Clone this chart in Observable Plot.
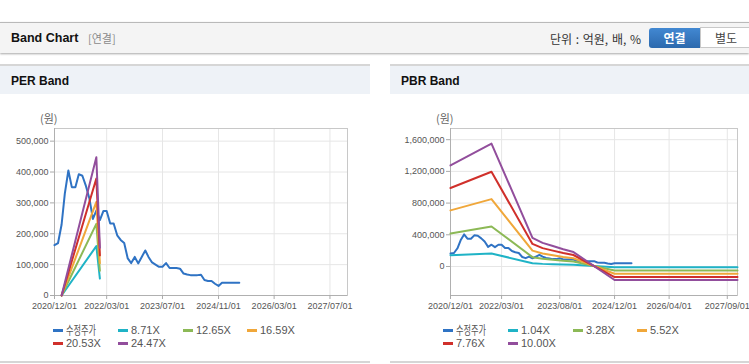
<!DOCTYPE html>
<html><head><meta charset="utf-8">
<script src="https://cdn.jsdelivr.net/npm/d3@7"></script>
<script src="https://cdn.jsdelivr.net/npm/@observablehq/plot@0.6"></script>
<style>
body{margin:0;width:749px;height:364px;overflow:hidden;background:#fff;position:relative;font-family:"Liberation Sans",Arial,sans-serif;}
.abs{position:absolute;}
.kr{font-family:"Noto Sans CJK KR","Liberation Sans",sans-serif;}
#topbar{left:0;top:22px;width:749px;height:30px;background:#f4f4f4;border-top:1px solid #b9b9b9;box-shadow:0 1px 2px rgba(0,0,0,0.35);}
.title{font-weight:bold;color:#111;white-space:nowrap;}
.btn{top:28px;height:20px;line-height:20px;text-align:center;font-size:12px;}
.phead{top:64px;height:28px;background:#eef2f7;border-top:2px solid #d6d6d6;}
.pbottom{top:361px;height:0;border-top:2px solid #d6d6d6;}
.leg{font-size:11px;color:#555;white-space:nowrap;line-height:12px;height:12px;}
.sw{position:absolute;width:10px;height:3px;}
</style></head><body>
<div id="topbar" class="abs"></div>
<div class="abs title" style="left:11px;top:31px;font-size:12.5px;">Band Chart</div>
<div class="abs kr" style="left:88px;top:30px;font-size:11px;color:#8a8a8a;">[연결]</div>
<div class="abs kr" style="left:550px;top:30px;font-size:12px;color:#333;white-space:nowrap;word-spacing:1px;">단위 : 억원, 배, %</div>
<div class="abs btn kr" style="left:649px;width:51px;background:linear-gradient(#4288d2,#2c69ad);color:#fff;font-weight:bold;border-radius:3px 0 0 3px;">연결</div>
<div class="abs btn kr" style="left:700px;width:52px;background:#fff;color:#444;border:1px solid #c8c8c8;top:27px;box-sizing:border-box;height:21px;">별도</div>

<div class="abs phead" style="left:0;width:370px;"></div>
<div class="abs phead" style="left:390px;width:359px;"></div>
<div class="abs title" style="left:11px;top:74px;font-size:12px;">PER Band</div>
<div class="abs title" style="left:401px;top:74px;font-size:12px;">PBR Band</div>
<div class="abs pbottom" style="left:0;width:370px;"></div>
<div class="abs pbottom" style="left:390px;width:359px;"></div>

<div class="abs kr" style="left:40px;top:110px;font-size:11px;color:#666;">(원)</div>
<div class="abs kr" style="left:436px;top:110px;font-size:11px;color:#666;">(원)</div>

<div id="left" class="abs" style="left:0;top:100px;"></div>
<div id="right" class="abs" style="left:390px;top:100px;"></div>
<div id="legends"></div>

<script>
// ---- data ----
const priceDates = [
 "2020-12-01",
 "2021-01-01","2021-02-01","2021-03-01","2021-04-01","2021-05-01","2021-06-01","2021-07-01","2021-08-01","2021-09-01","2021-10-01","2021-11-01","2021-12-01",
 "2022-01-01","2022-02-01","2022-03-01","2022-04-01","2022-05-01","2022-06-01","2022-07-01","2022-08-01","2022-09-01","2022-10-01","2022-11-01","2022-12-01",
 "2023-01-01","2023-02-01","2023-03-01","2023-04-01","2023-05-01","2023-06-01","2023-07-01","2023-08-01","2023-09-01","2023-10-01","2023-11-01","2023-12-01",
 "2024-01-01","2024-02-01","2024-03-01","2024-04-01","2024-05-01","2024-06-01","2024-07-01","2024-08-01","2024-09-01","2024-10-01","2024-11-01","2024-12-01",
 "2025-01-01","2025-02-01","2025-03-01","2025-04-01","2025-05-01"];
const priceValues = [
 163000,170000,230000,330000,405000,351000,351000,393000,388000,355000,315000,248000,
 275000,244000,274000,274000,233000,233000,195000,180000,170000,120000,105000,125000,
 104000,125000,146000,125000,107000,100000,93000,93000,105000,89000,89000,89000,
 87000,71000,68000,66000,66000,66000,67000,50000,47000,47000,38000,31000,
 41000,41000,41000,41000,41000,41000];

const perDates = ["2021-02-01","2021-12-01","2022-01-01"];
const per871 = [0,160000,55000];
const per1265 = [0,232000,80000];
const per1659 = [0,303000,105000];
const per2053 = [0,379000,130000];
const per2447 = [0,448000,155000];
const perLabels = ["수정주가","8.71X","12.65X","16.59X","20.53X","24.47X"];

const pbrDates = ["2020-12-01","2021-12-01","2022-12-01","2023-03-01","2023-06-01","2023-09-01","2023-12-01","2024-12-01","2027-12-01"];
const pbr104 = [143000,165000,40000,33000,29000,25000,22000,-10000,-10000];
const pbr328 = [416000,505000,118000,98000,85000,72000,62000,-50000,-50000];
const pbr552 = [708000,850000,200000,165000,142000,120000,104000,-92000,-92000];
const pbr776 = [990000,1195000,285000,232000,200000,170000,145000,-133000,-133000];
const pbr1000 = [1275000,1550000,362000,298000,258000,218000,182000,-170000,-170000];
const pbrLabels = ["수정주가","1.04X","3.28X","5.52X","7.76X","10.00X"];

const colors = ["#2f73c4","#1fb3c6","#8cb956","#f0a73a","#d0302b","#924e9c"];

const xDomain = ["2020-12-01","2027-12-01"];
const perXTicks = ["2020-12-01","2022-03-01","2023-07-01","2024-11-01","2026-03-01","2027-07-01"];
const pbrXTicks = ["2020-12-01","2022-03-01","2023-08-01","2024-12-01","2026-04-01","2027-09-01"];
const perYTicks = [0,100000,200000,300000,400000,500000];
const pbrYTicks = [0,400000,800000,1200000,1600000];
const perYDomain = [0,541000];
const pbrYDomain = [-366000,1741000];

// ---- build ----
const parse = d3.utcParse("%Y-%m-%d");
function rows(dates, vals){ return dates.map((d,i)=>({date:parse(d), value:vals[i]})); }

function chart(opts){
  const xt = opts.xticks.map(parse);
  const xd = xDomain.map(parse);
  const marks = [
    Plot.gridY({ticks: opts.yticks, stroke:"#e6e6e6", strokeOpacity:1}),
    Plot.gridX({ticks: xt, stroke:"#e6e6e6", strokeOpacity:1}),
    Plot.frame({stroke:"#c8c8c8"}),
    Plot.ruleY([opts.ydomain[0]], {stroke:"#b0b0b0"}),
    Plot.ruleX([xd[0]], {stroke:"#b0b0b0"}),
    Plot.axisY({ticks: opts.yticks, tickSize:4, tickPadding:2, tickFormat:d3.format(","), stroke:"#aaa", fill:"#555", label:null}),
    Plot.axisX({ticks: xt, tickSize:4, tickPadding:3, tickFormat:d3.utcFormat("%Y/%m/%d"), stroke:"#aaa", fill:"#555", label:null})
  ];
  opts.series.forEach((s,i)=>{
    marks.push(Plot.lineY(s, {x:"date", y:"value", stroke:colors[i], strokeWidth:2}));
  });
  return Plot.plot({
    width: opts.width, height: 220,
    marginLeft: opts.ml, marginRight: opts.mr, marginTop: 28, marginBottom: 25,
    style:{fontSize:"9px", fontFamily:"'Liberation Sans', Arial, sans-serif", color:"#555", background:"none", overflow:"visible"},
    x:{type:"utc", domain: xd},
    y:{domain: opts.ydomain},
    marks
  });
}

document.getElementById("left").appendChild(chart({
  width:370, ml:54, mr:23, xticks:perXTicks, yticks:perYTicks, ydomain:perYDomain,
  series:[rows(priceDates,priceValues), rows(perDates,per871), rows(perDates,per1265), rows(perDates,per1659), rows(perDates,per2053), rows(perDates,per2447)]
}));
document.getElementById("right").appendChild(chart({
  width:359, ml:60, mr:12, xticks:pbrXTicks, yticks:pbrYTicks, ydomain:pbrYDomain,
  series:[rows(priceDates,priceValues), rows(pbrDates,pbr104), rows(pbrDates,pbr328), rows(pbrDates,pbr552), rows(pbrDates,pbr776), rows(pbrDates,pbr1000)]
}));

// ---- legends ----
const legPos = [[53,330],[118,330],[183,330],[247,330],[53,343],[118,343]];
const leg = document.getElementById("legends");
function legend(labels, dx){
  labels.forEach((t,i)=>{
    const [x,y] = legPos[i];
    const sw = document.createElement("div");
    sw.className = "sw";
    sw.style.left = (x+dx)+"px"; sw.style.top = (y-1)+"px"; sw.style.background = colors[i];
    leg.appendChild(sw);
    const tx = document.createElement("div");
    tx.className = "abs leg";
    tx.style.left = (x+dx+13)+"px"; tx.style.top = (y-6)+"px";
    if (/[가-힣]/.test(t)) {
      tx.classList.add("kr");
      tx.style.fontSize = "12px";
      tx.style.transform = "scaleX(0.68)";
      tx.style.transformOrigin = "left center";
    }
    tx.textContent = t;
    leg.appendChild(tx);
  });
}
legend(perLabels, 0);
legend(pbrLabels, 390);
</script>
</body></html>
